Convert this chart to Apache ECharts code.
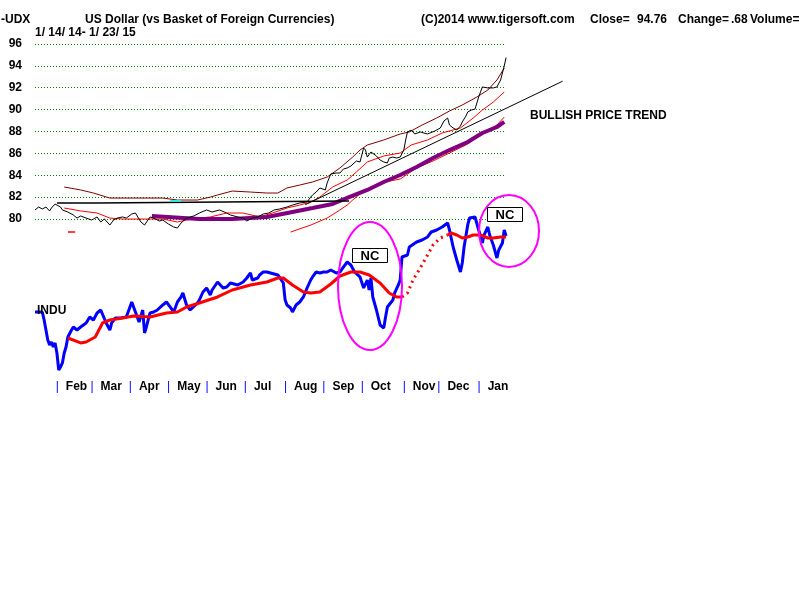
<!DOCTYPE html>
<html><head><meta charset="utf-8">
<script src="https://cdn.jsdelivr.net/npm/echarts@6/dist/echarts.min.js"></script>
<style>html,body{margin:0;background:#fff}#c{width:800px;height:600px}</style>
</head><body><div id="c"></div>
<script>
// trading-day index 0 = 1/14/14 ... 258 = 1/23/15
const monthStarts = [13, 32, 53, 74, 95, 116, 138, 159, 180, 203, 222, 244];
const monthNames = ['Feb', 'Mar', 'Apr', 'May', 'Jun', 'Jul', 'Aug', 'Sep', 'Oct', 'Nov', 'Dec', 'Jan'];
const gridValues = [80, 82, 84, 86, 88, 90, 92, 94, 96];
const lastDay = 258;

const dollarClose = [[0,80.82],[2,81.09],[3,81.27],[4,80.91],[6,81.09],[8,80.73],[9,81.00],[11,81.36],[12,81.36],[14,81.09],[15,80.82],[18,80.63],[19,80.45],[21,80.36],[23,80.08],[25,80.27],[26,80.45],[28,80.08],[31,79.90],[34,80.18],[36,79.72],[38,80.00],[41,79.44],[43,79.90],[45,80.08],[48,80.18],[50,80.08],[53,80.45],[55,80.54],[58,79.72],[60,79.44],[63,80.18],[66,80.00],[68,79.81],[70,79.90],[73,79.54],[76,79.26],[78,79.17],[80,79.63],[83,80.08],[87,80.27],[90,80.54],[94,80.82],[97,80.63],[101,80.82],[105,80.54],[107,80.36],[111,80.18],[114,80.08],[116,79.81],[119,80.08],[122,80.18],[125,80.45],[128,80.54],[131,80.82],[134,80.91],[138,81.09],[141,81.27],[145,81.46],[149,81.55],[151,82.00],[152,82.19],[154,82.46],[156,82.83],[159,82.65],[160,83.29],[162,84.11],[163,84.29],[165,84.20],[167,84.20],[169,84.57],[171,84.66],[173,84.84],[174,84.75],[176,85.30],[178,85.21],[180,86.49],[181,86.30],[182,85.66],[184,86.12],[185,86.30],[187,85.76],[189,85.39],[191,85.21],[193,85.12],[194,85.57],[196,85.66],[198,85.57],[200,85.66],[202,86.30],[203,87.22],[204,87.95],[206,88.13],[208,87.77],[209,87.68],[211,87.95],[212,87.95],[215,87.77],[216,87.86],[219,88.04],[220,88.13],[222,88.32],[224,88.96],[226,89.23],[227,88.59],[229,88.32],[231,88.13],[233,88.50],[234,88.87],[236,89.41],[237,89.78],[239,89.96],[241,90.05],[242,90.15],[243,91.15],[244,91.61],[245,92.07],[248,91.98],[249,92.07],[251,91.98],[253,92.07],[255,92.71],[256,93.35],[257,93.99],[258,94.76]];

const upperBand = [[16,82.92],[25,82.65],[32,82.37],[41,81.91],[52,81.91],[70,81.91],[78,81.73],[89,81.73],[96,82.00],[100,82.19],[108,82.55],[118,82.46],[127,82.37],[133,82.37],[138,82.83],[145,83.10],[152,83.38],[160,83.83],[167,84.66],[174,85.66],[178,86.30],[182,86.76],[191,87.22],[200,87.77],[205,87.95],[212,88.59],[220,89.23],[227,89.87],[234,90.42],[242,91.15],[248,91.79],[253,92.71],[257,93.80]];

const midBand = [[16,81.00],[25,80.73],[34,80.54],[41,80.08],[48,79.99],[58,79.99],[70,79.99],[78,79.72],[83,79.90],[90,80.08],[96,80.18],[105,80.54],[114,80.54],[123,80.18],[130,80.54],[138,81.00],[145,81.27],[151,81.55],[156,82.00],[163,82.92],[171,83.56],[176,84.29],[182,85.21],[191,85.76],[200,86.03],[206,86.76],[215,87.22],[223,87.86],[233,88.32],[240,89.23],[245,89.96],[251,90.69],[257,91.61]];

const lowerBandStub = [[18,78.8],[22,78.8]];
const lowerBand = [[140,78.80],[151,79.44],[160,80.08],[167,80.82],[171,81.27],[174,81.73],[178,82.28],[182,82.74],[189,83.29],[200,83.65],[209,84.66],[218,85.30],[227,86.03],[237,86.85],[245,87.86],[253,88.59],[257,89.32]];

const longMA = [[64,80.27],[90,80.00],[108,80.00],[127,80.18],[141,80.64],[152,81.00],[163,81.37],[172,82.00],[182,82.65],[191,83.38],[200,84.02],[209,84.75],[218,85.57],[227,86.30],[237,87.04],[245,87.86],[253,88.41],[257,88.87]];

const trendLine = [[148,81.3],[289,92.6]];
const flatLine = [[12,81.46],[34,81.46],[34,81.64],[172,81.64]];
const cyanBit = [[74,81.66],[80,81.66]];

const indu = [[0,16350],[1,16385],[4,16350],[5,16210],[6,16035],[7,15860],[8,15773],[9,15825],[10,15738],[11,15808],[12,15633],[13,15335],[14,15388],[15,15458],[16,15633],[17,15738],[18,15913],[20,16035],[21,16088],[23,16035],[25,16088],[26,16070],[28,16158],[30,16263],[32,16210],[34,16333],[36,16385],[37,16350],[39,16158],[41,16035],[42,16158],[44,16245],[47,16245],[50,16263],[53,16525],[55,16350],[57,16175],[59,16385],[60,15983],[61,16088],[63,16333],[65,16350],[67,16385],[68,16385],[70,16473],[72,16525],[74,16438],[76,16350],[78,16525],[80,16613],[81,16683],[83,16473],[85,16385],[86,16350],[89,16508],[90,16560],[92,16700],[94,16770],[96,16648],[97,16735],[100,16875],[101,16910],[103,16770],[105,16788],[107,16858],[108,16875],[111,16823],[112,16823],[114,16875],[116,16945],[118,17033],[119,16910],[122,16945],[123,16998],[125,17050],[127,17050],[129,17033],[130,17050],[133,16998],[134,16963],[136,16858],[137,16560],[138,16473],[140,16420],[141,16350],[143,16473],[145,16525],[147,16613],[149,16770],[151,16910],[152,16963],[154,17050],[156,17033],[158,17050],[160,17050],[162,17085],[165,17033],[167,17050],[169,17138],[171,17225],[173,17173],[175,17050],[178,16963],[180,16770],[182,16910],[183,16735],[184,16945],[185,16613],[187,16385],[189,16123],[191,16070],[192,16263],[193,16438],[196,16560],[197,16683],[199,16823],[200,16910],[201,17313],[204,17348],[205,17488],[209,17575],[212,17610],[215,17663],[217,17750],[220,17785],[223,17838],[226,17908],[227,17785],[229,17488],[231,17260],[233,17050],[234,17208],[235,17488],[237,17873],[238,17995],[241,18013],[243,17785],[245,17558],[246,17698],[248,17838],[249,17698],[251,17523],[253,17295],[254,17435],[256,17558],[257,17785],[258,17680]];

const induMA = [[18,15895],[25,15808],[28,15825],[33,15913],[37,16158],[41,16210],[48,16245],[54,16280],[63,16263],[72,16333],[78,16350],[83,16438],[90,16508],[100,16613],[108,16735],[118,16823],[127,16875],[133,16945],[136,16945],[141,16823],[147,16700],[151,16683],[156,16700],[162,16840],[167,16980],[173,17050],[178,17050],[183,16998],[189,16858],[194,16683],[198,16613],[201,16613],[204,16683],[207,16910],[211,17120],[215,17348],[218,17523],[222,17645],[226,17698],[228,17733],[231,17698],[234,17645],[237,17663],[240,17698],[244,17698],[248,17645],[251,17645],[255,17663],[258,17663]];
const maDottedFrom = 201, maDottedTo = 226;

const FONT = '"Liberation Sans", Arial, sans-serif';
const chart = echarts.init(document.getElementById('c'));

function line(data, color, width, extra) {
  return Object.assign({
    type: 'line', data: data, showSymbol: false, symbol: 'none', silent: true,
    lineStyle: { color: color, width: width }, itemStyle: { color: color }, z: 3
  }, extra || {});
}
function txt(text, x, y, size, align) {
  return { type: 'text', x: x, y: y, z: 50,
    style: { text: text, font: 'bold ' + (size || 12) + 'px ' + FONT, fill: '#000',
      align: align || 'left', verticalAlign: 'middle' } };
}

const option = {
  animation: false,
  backgroundColor: '#fff',
  grid: { left: 35, top: 44, right: 235.5, bottom: 228, containLabel: false },
  xAxis: {
    type: 'value', min: 0, max: 290,
    axisLine: { show: false }, splitLine: { show: false },
    axisTick: { show: false, customValues: monthStarts },
    axisLabel: {
      customValues: monthStarts, align: 'left', margin: 9,
      padding: [0, 0, 0, -3],
      formatter: function (v) {
        const k = monthStarts.indexOf(Math.round(v));
        return k < 0 ? '' : '{b||}{m|' + monthNames[k] + '}';
      },
      rich: {
        b: { color: '#0000ff', fontSize: 12, fontFamily: FONT },
        m: { color: '#000', fontWeight: 'bold', fontSize: 12, fontFamily: FONT, padding: [0, 0, 0, 7] }
      }
    }
  },
  yAxis: [
    { type: 'value', min: 66, max: 96, interval: 2,
      axisLine: { show: false }, axisTick: { show: false }, splitLine: { show: false },
      axisLabel: { margin: 13, color: '#000', fontWeight: 'bold', fontSize: 12, fontFamily: FONT,
        formatter: function (v) { return gridValues.indexOf(v) >= 0 ? String(v) : ''; } } },
    { type: 'value', min: 15300, max: 21040, show: false }
  ],
  series: [
    line([], '#008000', 1, { z: 1, markLine: {
      silent: true, symbol: 'none', z: 1, animation: false,
      label: { show: false },
      lineStyle: { color: '#008000', type: [1, 2], width: 1 },
      data: gridValues.map(v => [{ coord: [0, v] }, { coord: [lastDay, v] }])
    } }),
    line(upperBand, '#800000', 1),
    line(midBand, '#ff0000', 1),
    line(lowerBand, '#ff0000', 1),
    line(lowerBandStub, '#ff0000', 1.5),
    line(longMA, '#800080', 4),
    line(flatLine, '#000000', 1.5),
    line(cyanBit, '#00ffff', 1.5, { z: 4 }),
    line(trendLine, '#000000', 1),
    line(dollarClose, '#000000', 1, { z: 5 }),
    line(indu, '#0000ff', 3, { yAxisIndex: 1, z: 6 }),
    line(induMA.filter(p => p[0] <= maDottedFrom), '#ff0000', 3, { yAxisIndex: 1, z: 7 }),
    line(induMA.filter(p => p[0] >= maDottedFrom && p[0] <= maDottedTo), '#ff0000', 3,
      { yAxisIndex: 1, z: 7, lineStyle: { color: '#ff0000', width: 3, type: [2, 4] } }),
    line(induMA.filter(p => p[0] >= maDottedTo), '#ff0000', 3, { yAxisIndex: 1, z: 7 })
  ],
  graphic: [
    txt('-UDX', 1, 20),
    txt('US Dollar (vs Basket of Foreign Currencies)', 85, 20),
    txt('1/ 14/ 14- 1/ 23/ 15', 35, 33),
    txt('(C)2014 www.tigersoft.com', 421, 20),
    txt('Close=', 590, 20),
    txt('94.76', 637, 20),
    txt('Change=', 678, 20),
    txt('.68', 731, 20),
    txt('Volume=', 750, 20),
    txt('BULLISH PRICE TREND', 530, 116),
    txt('INDU', 37, 311),
    { type: 'ellipse', z: 40, shape: { cx: 370, cy: 286, rx: 32, ry: 64 },
      style: { fill: 'none', stroke: '#ff00ff', lineWidth: 2 } },
    { type: 'ellipse', z: 40, shape: { cx: 509, cy: 231, rx: 30, ry: 36 },
      style: { fill: 'none', stroke: '#ff00ff', lineWidth: 2 } },
    { type: 'rect', z: 45, shape: { x: 352.5, y: 248.5, width: 35, height: 14 },
      style: { fill: '#fff', stroke: '#000', lineWidth: 1 } },
    txt('NC', 370, 256, 13, 'center'),
    { type: 'rect', z: 45, shape: { x: 487.5, y: 207.5, width: 35, height: 14 },
      style: { fill: '#fff', stroke: '#000', lineWidth: 1 } },
    txt('NC', 505, 215, 13, 'center')
  ]
};
chart.setOption(option);
</script>
</body></html>
